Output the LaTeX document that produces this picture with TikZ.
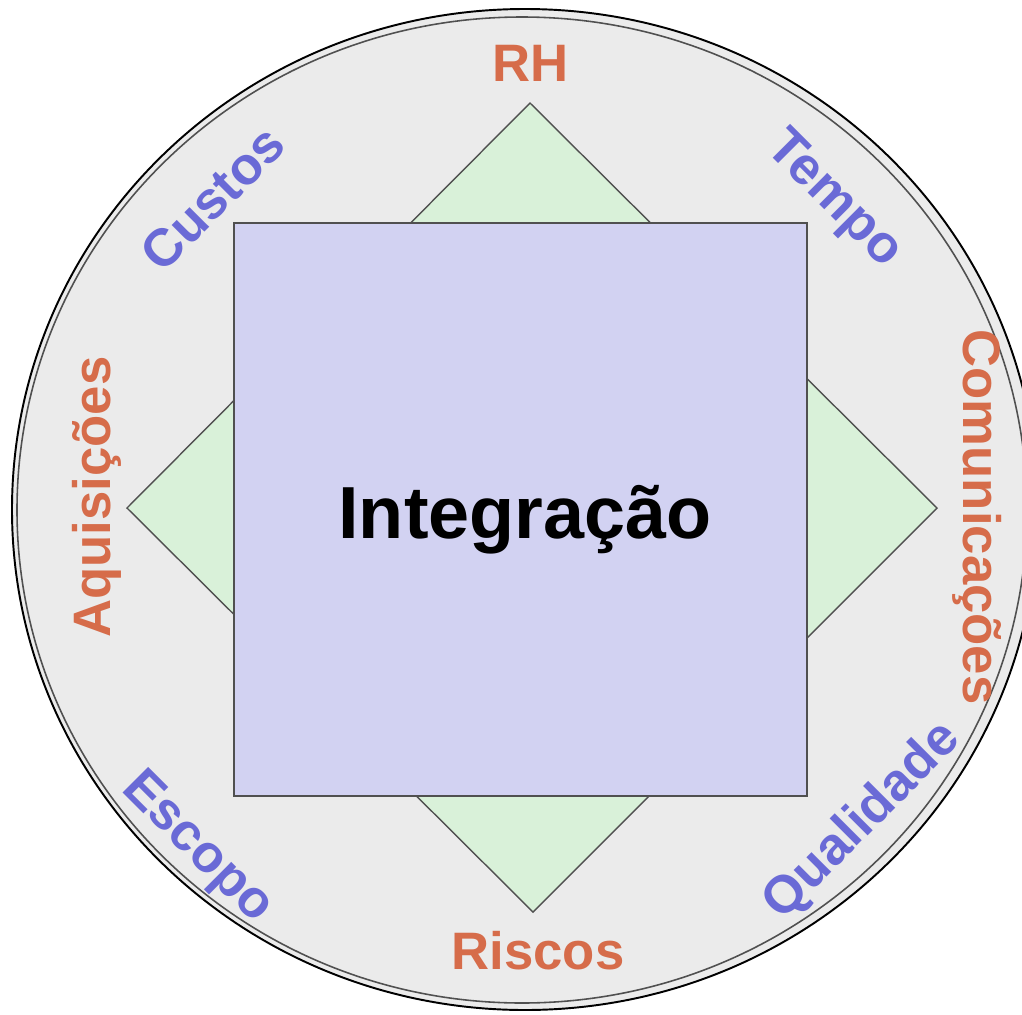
\documentclass[tikz,border=0pt]{standalone}
\usepackage{fontspec}
\setmainfont{Liberation Sans}
\definecolor{orangetxt}{RGB}{214,108,74}
\definecolor{bluetxt}{RGB}{106,106,214}
\definecolor{ringfill}{RGB}{235,235,235}
\definecolor{diamfill}{RGB}{217,241,217}
\definecolor{sqfill}{RGB}{210,210,242}
\definecolor{edgegray}{RGB}{80,80,80}

\begin{document}
\begin{tikzpicture}[x=0.02cm,y=-0.02cm,
  lbl/.style={font=\bfseries\fontsize{30}{36}\selectfont,text height=21.5pt,text depth=0pt,inner sep=0pt},
  orlbl/.style={lbl,text=orangetxt},
  bllbl/.style={lbl,text=bluetxt}]
\useasboundingbox (0,0) rectangle (1022,1015);

% outer ring
\fill[ringfill] (525,509.5) ellipse [x radius=513,y radius=500.5];
\draw[black,line width=1.1pt] (525,509.5) ellipse [x radius=513,y radius=500.5];
\draw[edgegray,line width=0.9pt] (522,510) ellipse [x radius=505,y radius=493];

% diamond and square
\filldraw[fill=diamfill,draw=edgegray,line width=0.8pt] (530,103) -- (937,508) -- (533,912) -- (127,508) -- cycle;
\filldraw[fill=sqfill,draw=edgegray,line width=1.1pt] (234,223) rectangle (807,796);

  \node[anchor=base,font=\bfseries\fontsize{42}{48}\selectfont] (integ) at (525,538) {Integração};

 \node[orlbl] (rh) at (531,63) {RH};
 \node[orlbl] (riscos) at (538,951) {Riscos};
 \node[orlbl,rotate=90] (aquis) at (92,497) {Aquisições};
 \node[orlbl,rotate=-90] (comun) at (982,517) {Comunicações};
  \node[bllbl,rotate=45] (custos) at (212,198) {Custos};
  \node[bllbl,rotate=-45] (tempo) at (838,196) {Tempo};
  \node[bllbl,rotate=-45] (escopo) at (201,844) {Escopo};
  \node[bllbl,rotate=45] (qualid) at (859,818) {Qualidade};

\end{tikzpicture}
\end{document}
